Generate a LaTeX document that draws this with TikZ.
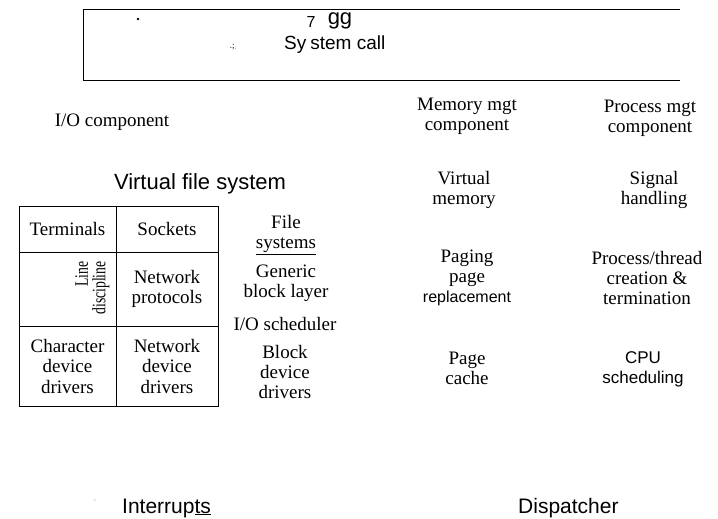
\documentclass[tikz,border=0pt]{standalone}
\usepackage{fontspec}
\usepackage{graphicx}
\newfontfamily\tms{Liberation Serif}
\newfontfamily\arl{Liberation Sans}
\begin{document}
\begin{tikzpicture}[x=1pt,y=-1pt,
  txt/.style={inner sep=0pt,align=center,font=\tms\fontsize{19}{20}\selectfont},
  sans/.style={inner sep=0pt,align=center,font=\arl\fontsize{17}{20}\selectfont},
  big/.style={inner sep=0pt,align=center,font=\arl\fontsize{21}{24}\selectfont},
  cell/.style={draw,line width=0.8pt,inner sep=0pt,align=center,font=\tms\fontsize{19}{20.5}\selectfont},
  speck/.style={inner sep=0pt,font=\tms\fontsize{9}{9}\selectfont}]
\useasboundingbox (0,0) rectangle (718,519);
% top open box
\coordinate (tr) at (680,9);
\coordinate (br) at (680,80);
\coordinate (tl) at (83,9);
\coordinate (bl) at (83,80);
\draw[line width=0.9pt] (tr) -- (tl) -- (bl) -- (br);
\node[circle,fill,inner sep=0pt,minimum size=2.6pt] (dot) at (138,19) {};
\node[inner sep=0pt,font=\arl\fontsize{16}{16}\selectfont] (seven) at (311,22) {7};
\node[inner sep=0pt,font=\arl\fontsize{22}{22}\selectfont] (gg) at (340,21) {gg};
\node[speck] (punct) at (233,47) {.;\raisebox{-1pt}{\tiny:}};
\node[inner sep=0pt,anchor=west,font=\arl\fontsize{19}{20}\selectfont] (syscall) at (284,45) {Sy\hspace{4pt}stem call};
% I/O side
\node[txt] (io) at (112,122) {I/O component};
\node[big,font=\arl\fontsize{22}{26}\selectfont] (vfs) at (200,184) {Virtual file system};
% table
\node[cell,minimum width=97pt,minimum height=46pt] (term) at (67.5,229) {Terminals};
\node[cell,minimum width=102pt,minimum height=46pt] (sock) at (167,229) {Sockets};
\node[cell,minimum width=97pt,minimum height=74pt] (ldcell) at (67.5,289) {};
\node[inner sep=0pt,rotate=90,font=\tms\fontsize{19}{18}\selectfont] (ld) at (93,288)
  {\scalebox{0.72}[1]{\begin{tabular}{@{}r@{}}Line\\[-1pt]discipline\end{tabular}}};
\node[cell,minimum width=102pt,minimum height=74pt] (netp) at (167,289) {Network\\protocols};
\node[cell,minimum width=97pt,minimum height=80pt] (cdd) at (67.5,366) {Character\\device\\drivers};
\node[cell,minimum width=102pt,minimum height=80pt] (ndd) at (167,366) {Network\\device\\drivers};
% block column
\node[txt] (fs) at (286,235) {File\\\underline{systems}};
\node[txt] (gbl) at (286,283) {Generic\\block layer};
\node[txt] (ios) at (285,324) {I/O scheduler};
\node[txt] (bdd) at (285,372) {Block\\device\\drivers};
% memory column
\node[txt] (mem) at (467,116) {Memory mgt\\component};
\node[txt] (vm) at (464,190) {Virtual\\memory};
\node[txt] (paging) at (467,278) {Paging\\page\\{\arl\fontsize{16}{20}\selectfont replacement}};
\node[txt] (pcache) at (467,368) {Page\\cache};
% process column
\node[txt] (proc) at (650,118) {Process mgt\\component};
\node[txt] (sig) at (654,190) {Signal\\handling};
\node[txt] (pthr) at (647,278) {Process/thread\\creation \&\\termination};
\node[sans] (cpu) at (643,369) {CPU\\scheduling};
% bottom
\node[speck] (colon) at (95,500) {\tiny:};
\node[big,anchor=west] (intr) at (122,508) {Interrup\underline{ts}};
\node[big,anchor=west] (disp) at (518,508) {Dispatcher};
\end{tikzpicture}
\end{document}
